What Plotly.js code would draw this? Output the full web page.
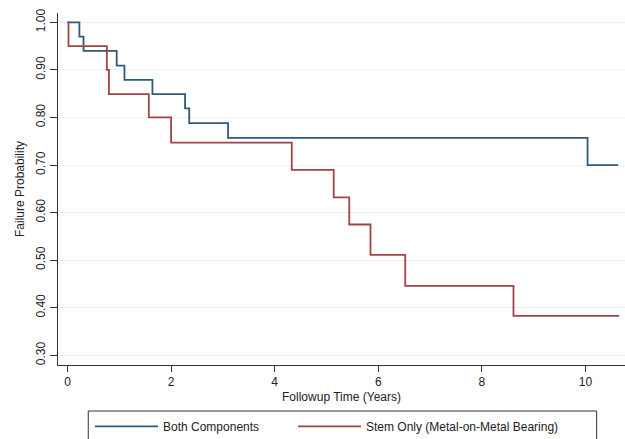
<!DOCTYPE html>
<html>
<head>
<meta charset="utf-8">
<script src="https://cdn.plot.ly/plotly-3.0.1.min.js"></script>
<style>html,body{margin:0;padding:0;background:#fff;}#chart{width:625px;height:439px;}</style>
</head>
<body>
<div id="chart"></div>
<script>
// Data (Kaplan-Meier style step curves)
var bothTime = [0, 0.23, 0.31, 0.95, 1.10, 1.64, 2.27, 2.35, 3.10, 10.04, 10.63];
var bothProb = [1.00, 0.970, 0.940, 0.909, 0.879, 0.849, 0.819, 0.788, 0.757, 0.700, 0.700];
var stemTime = [0, 0.02, 0.76, 0.80, 1.57, 2.00, 4.33, 5.14, 5.44, 5.85, 6.52, 8.61, 10.65];
var stemProb = [1.00, 0.950, 0.900, 0.849, 0.800, 0.747, 0.690, 0.632, 0.575, 0.511, 0.446, 0.383, 0.383];
var seriesNames = ["Both Components", "Stem Only (Metal-on-Metal Bearing)"];
var xTicks = [0, 2, 4, 6, 8, 10];
var yTicks = [0.30, 0.40, 0.50, 0.60, 0.70, 0.80, 0.90, 1.00];
var yTickText = ["0.30", "0.40", "0.50", "0.60", "0.70", "0.80", "0.90", "1.00"];

var FONT = "Liberation Sans, Arial, Helvetica, sans-serif";
var traces = [
  {x: bothTime, y: bothProb, name: seriesNames[0], type: "scatter", mode: "lines", legend: "legend",
   line: {shape: "hv", color: "#2f5a7c", width: 1.8}, hoverinfo: "skip"},
  {x: stemTime, y: stemProb, name: seriesNames[1], type: "scatter", mode: "lines", legend: "legend2",
   line: {shape: "hv", color: "#a0444a", width: 1.8}, hoverinfo: "skip"}
];

function legendAt(px) {
  return {
    orientation: "h", xref: "container", yref: "container",
    x: px / 625, xanchor: "left", y: 0.062, yanchor: "top",
    bgcolor: "rgba(0,0,0,0)", borderwidth: 0, itemwidth: 63,
    font: {family: FONT, size: 12, color: "#222222"}
  };
}

var layout = {
  width: 625, height: 439,
  margin: {l: 58, r: 0, t: 13, b: 74},
  paper_bgcolor: "#ffffff", plot_bgcolor: "#ffffff",
  font: {family: FONT, size: 12, color: "#222222"},
  showlegend: true,
  xaxis: {
    range: [-0.183, 10.763], tickvals: xTicks, ticktext: xTicks.map(String),
    showgrid: false, zeroline: false, showline: true, linecolor: "#333333", linewidth: 1,
    ticks: "outside", ticklen: 6, tickcolor: "#333333", tickwidth: 1,
    tickfont: {family: FONT, size: 12, color: "#222222"},
    title: {text: "Followup Time (Years)", font: {family: FONT, size: 12, color: "#222222"}, standoff: 4}
  },
  yaxis: {
    range: [0.2796, 1.0196], tickvals: yTicks, ticktext: yTickText, tickangle: -90,
    showgrid: true, gridcolor: "#e6eff1", gridwidth: 1,
    zeroline: false, showline: true, linecolor: "#333333", linewidth: 1,
    ticks: "outside", ticklen: 7, tickcolor: "#333333", tickwidth: 1,
    tickfont: {family: FONT, size: 12, color: "#222222"},
    title: {text: "Failure Probability", font: {family: FONT, size: 12, color: "#222222"}}
  },
  legend: legendAt(90),
  legend2: legendAt(293),
  shapes: [
    {type: "rect", xref: "paper", yref: "paper", x0: 0.0534, x1: 0.950, y0: -0.1307, y1: -0.25,
     line: {color: "#333333", width: 1}, fillcolor: "rgba(0,0,0,0)", layer: "above"}
  ]
};

Plotly.newPlot("chart", traces, layout, {displayModeBar: false, staticPlot: true});
</script>
</body>
</html>
